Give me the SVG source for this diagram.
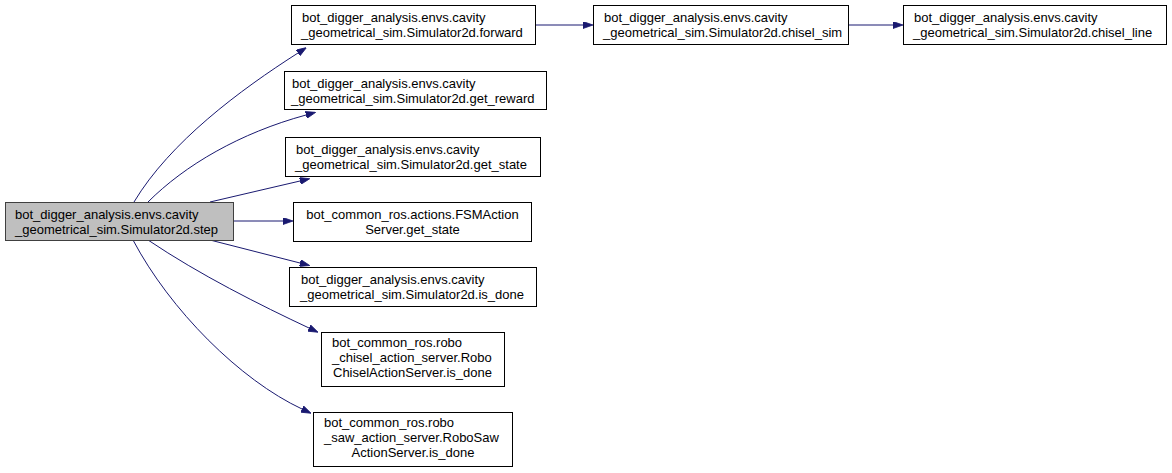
<svg xmlns="http://www.w3.org/2000/svg" width="1172" height="473" viewBox="0 0 1172 473">
  <style>
    .node rect { fill: #ffffff; stroke: #000000; stroke-width: 1; }
    .node.current rect { fill: #bfbfbf; stroke: #404040; }
    .node text { font-family: "Liberation Sans", Arial, sans-serif; font-size: 13px; fill: #000000; }
    .node text.c { text-anchor: middle; }
    .edge { fill: none; stroke: #191970; stroke-width: 1; marker-end: url(#arrow); }
  </style>
  <defs>
    <marker id="arrow" viewBox="0 0 10 7" refX="0" refY="3.5" markerWidth="10" markerHeight="7" markerUnits="userSpaceOnUse" orient="auto">
      <path d="M0,0 L10,3.5 L0,7 Z" fill="#191970" stroke="#191970" stroke-width="0.8"/>
    </marker>
  </defs>
  <rect width="1172" height="473" fill="#ffffff"/>

  <!-- call edges -->
  <g id="edges">
    <path class="edge" d="M134,202 C170,142 240,90 298,53"/>
    <path class="edge" d="M148,202 C185,165 240,133 306,115"/>
    <path class="edge" d="M210,202 L300,181"/>
    <path class="edge" d="M233,221 L283,221"/>
    <path class="edge" d="M210,240 L300,263"/>
    <path class="edge" d="M148,240 C200,275 260,305 309,328"/>
    <path class="edge" d="M133,240 C170,310 240,380 302,409"/>
    <path class="edge" d="M535,25 L583,25"/>
    <path class="edge" d="M848,25 L893,25"/>
  </g>

  <g id="node-step" class="node current">
    <rect x="5.5" y="202.5" width="228" height="38"/>
    <text x="15" y="219">bot_digger_analysis.envs.cavity</text>
    <text x="15" y="234">_geometrical_sim.Simulator2d.step</text>
  </g>

  <g id="node-forward" class="node">
    <rect x="291.5" y="5.5" width="244" height="39"/>
    <text x="302" y="22">bot_digger_analysis.envs.cavity</text>
    <text x="301" y="37">_geometrical_sim.Simulator2d.forward</text>
  </g>

  <g id="node-chisel-sim" class="node">
    <rect x="593.5" y="5.5" width="255" height="39"/>
    <text x="604" y="22">bot_digger_analysis.envs.cavity</text>
    <text x="603" y="37">_geometrical_sim.Simulator2d.chisel_sim</text>
  </g>

  <g id="node-chisel-line" class="node">
    <rect x="903.5" y="5.5" width="263" height="39"/>
    <text x="914" y="22">bot_digger_analysis.envs.cavity</text>
    <text x="913" y="37">_geometrical_sim.Simulator2d.chisel_line</text>
  </g>

  <g id="node-get-reward" class="node">
    <rect x="284.5" y="71.5" width="262" height="38"/>
    <text x="292" y="88">bot_digger_analysis.envs.cavity</text>
    <text x="291" y="103">_geometrical_sim.Simulator2d.get_reward</text>
  </g>

  <g id="node-get-state" class="node">
    <rect x="285.5" y="137.5" width="255" height="39"/>
    <text x="296" y="154">bot_digger_analysis.envs.cavity</text>
    <text x="295" y="169">_geometrical_sim.Simulator2d.get_state</text>
  </g>

  <g id="node-fsm-get-state" class="node">
    <rect x="293.5" y="202.5" width="238" height="39"/>
    <text class="c" x="412.5" y="219">bot_common_ros.actions.FSMAction</text>
    <text class="c" x="412.5" y="234">Server.get_state</text>
  </g>

  <g id="node-is-done" class="node">
    <rect x="289.5" y="267.5" width="247" height="39"/>
    <text x="301" y="284">bot_digger_analysis.envs.cavity</text>
    <text x="300" y="299">_geometrical_sim.Simulator2d.is_done</text>
  </g>

  <g id="node-chisel-is-done" class="node">
    <rect x="321.5" y="332.5" width="183" height="54"/>
    <text x="332" y="347">bot_common_ros.robo</text>
    <text x="332" y="362">_chisel_action_server.Robo</text>
    <text x="333" y="377">ChiselActionServer.is_done</text>
  </g>

  <g id="node-saw-is-done" class="node">
    <rect x="313.5" y="412.5" width="199" height="54"/>
    <text x="324" y="427">bot_common_ros.robo</text>
    <text x="324" y="442">_saw_action_server.RoboSaw</text>
    <text class="c" x="413" y="457">ActionServer.is_done</text>
  </g>
</svg>
